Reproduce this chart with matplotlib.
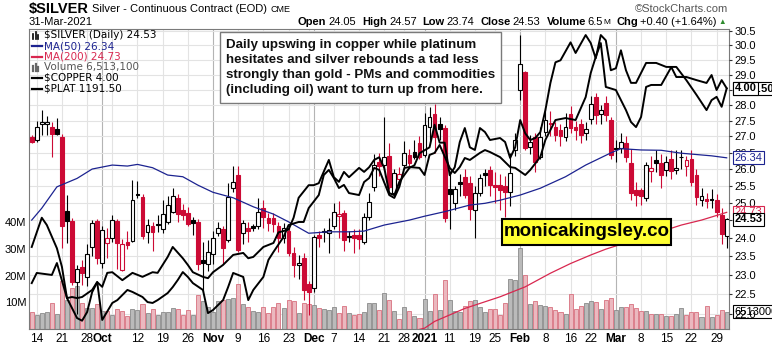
import numpy as np
import pandas as pd
import matplotlib
matplotlib.use('Agg')
import matplotlib.pyplot as plt
import matplotlib.transforms as mtransforms
from matplotlib.lines import Line2D
from matplotlib.patches import Rectangle
from matplotlib.ticker import FixedLocator, NullLocator

plt.rcParams['font.family'] = ['Liberation Sans', 'DejaVu Sans']

# trading days on the chart (exchange holidays removed)
holidays = ['2020-11-26', '2020-12-25', '2021-01-01', '2021-01-18', '2021-02-15']
dates = pd.bdate_range('2020-09-11', '2021-03-31')
dates = dates[~dates.isin(pd.to_datetime(holidays))]

# $SILVER daily candles
opens = [26.98, 26.89, 27.40, 27.38, 27.30, 27.23, 26.98, 24.76, 24.48, 22.82,
         23.22, 22.94, 23.77, 24.48, 23.33, 23.86, 24.01, 24.48, 23.14, 23.90,
         23.92, 25.27, 25.18, 24.18, 24.33, 24.39, 24.26, 24.46, 24.75, 25.15,
         24.80, 24.72, 24.51, 24.46, 23.41, 23.31, 23.58, 24.14, 24.26, 23.95,
         25.43, 25.83, 24.14, 24.30, 24.33, 24.33, 24.86, 24.56, 24.58, 24.35,
         24.01, 24.20, 23.59, 23.27, 23.45, 22.76, 22.65, 24.09, 24.20, 24.15,
         24.33, 24.62, 24.70, 24.07, 24.09, 24.08, 23.90, 24.60, 25.47, 26.22,
         26.12, 26.39, 25.28, 25.70, 26.12, 26.42, 26.52, 26.81, 26.42, 27.30,
         27.70, 27.38, 27.27, 25.42, 24.99, 25.62, 25.77, 25.57, 24.80, 25.28,
         25.87, 25.97, 25.52, 25.52, 25.50, 25.33, 26.58, 28.50, 29.10, 26.68,
         26.98, 26.37, 27.15, 27.42, 27.30, 27.20, 26.99, 27.70, 27.30, 27.40,
         27.10, 27.55, 28.25, 27.70, 28.05, 27.52, 26.65, 26.63, 26.80, 26.17,
         25.38, 25.37, 25.13, 25.93, 26.27, 26.17, 25.97, 26.29, 25.97, 26.37,
         26.10, 26.29, 25.82, 25.08, 25.12, 25.12, 25.08, 24.65, 24.05]
highs = [27.03, 27.48, 27.84, 27.66, 27.45, 27.58, 27.08, 25.24, 24.58, 23.27,
         23.40, 23.84, 24.50, 24.55, 24.35, 24.30, 24.65, 24.55, 23.98, 24.20,
         25.67, 25.64, 25.25, 24.55, 24.45, 24.65, 25.08, 25.20, 25.44, 25.25,
         24.98, 24.88, 24.60, 24.55, 23.90, 23.95, 24.20, 24.45, 24.35, 25.58,
         26.10, 26.10, 24.50, 24.45, 24.40, 25.15, 25.10, 24.70, 24.70, 24.45,
         24.42, 24.30, 23.75, 23.55, 23.60, 22.85, 24.10, 24.20, 24.30, 24.58,
         25.00, 25.05, 24.80, 24.20, 24.25, 24.25, 24.70, 25.30, 26.45, 26.50,
         27.62, 26.80, 26.00, 26.05, 26.85, 26.60, 26.90, 27.00, 27.74, 27.94,
         28.04, 27.60, 27.35, 25.95, 25.50, 25.85, 26.00, 25.80, 25.50, 25.85,
         26.00, 26.10, 25.90, 25.85, 25.80, 26.50, 27.10, 30.36, 29.13, 27.05,
         27.10, 27.30, 27.90, 27.80, 27.45, 27.40, 27.75, 27.95, 27.50, 27.55,
         27.45, 28.30, 28.40, 28.00, 28.30, 27.60, 26.90, 27.10, 27.00, 26.60,
         25.60, 25.45, 26.20, 26.40, 26.57, 26.45, 26.40, 26.57, 26.57, 26.57,
         26.40, 26.57, 26.00, 25.45, 25.30, 25.40, 25.25, 24.85, 24.57]
lows = [26.80, 26.83, 27.04, 27.05, 26.37, 27.03, 23.72, 23.86, 22.74, 21.98,
        22.74, 22.70, 23.50, 23.30, 23.20, 23.47, 23.90, 23.15, 23.10, 23.70,
        23.90, 25.13, 23.99, 23.88, 23.65, 24.18, 24.14, 24.40, 24.72, 24.47,
        24.50, 24.33, 24.10, 23.14, 22.56, 23.10, 23.30, 24.05, 23.30, 23.90,
        25.33, 23.63, 23.85, 23.90, 24.20, 24.25, 24.30, 24.20, 24.18, 23.63,
        23.88, 23.50, 22.95, 22.90, 22.35, 21.95, 22.55, 23.75, 23.90, 23.60,
        24.25, 24.00, 23.66, 23.90, 23.60, 23.70, 23.85, 24.50, 25.35, 25.80,
        25.98, 25.40, 25.25, 25.55, 26.00, 26.10, 26.30, 26.30, 26.35, 26.90,
        26.50, 26.90, 24.45, 24.26, 24.80, 25.20, 25.15, 24.50, 24.00, 25.20,
        25.50, 25.20, 25.00, 24.80, 24.60, 24.90, 26.40, 28.15, 26.57, 26.45,
        25.92, 26.30, 27.00, 27.00, 26.85, 26.70, 26.85, 27.10, 26.90, 26.80,
        26.90, 27.40, 27.40, 27.40, 27.50, 26.30, 26.20, 26.50, 26.20, 25.10,
        24.90, 24.95, 25.05, 25.60, 25.90, 25.45, 25.80, 25.70, 25.85, 26.00,
        25.80, 25.50, 24.95, 24.90, 24.85, 24.85, 24.60, 23.84, 23.74]
closes = [26.82, 27.30, 27.44, 27.46, 27.06, 27.08, 24.35, 24.48, 22.82, 23.16,
          23.05, 23.56, 24.42, 23.45, 24.22, 24.00, 24.52, 23.86, 23.84, 23.82,
          25.08, 25.24, 24.07, 24.37, 24.18, 24.37, 24.67, 24.94, 25.20, 24.67,
          24.65, 24.39, 24.42, 23.31, 23.33, 23.63, 24.00, 24.30, 23.72, 25.18,
          25.62, 23.67, 24.42, 24.20, 24.30, 24.75, 24.60, 24.42, 24.39, 24.00,
          24.28, 23.59, 23.27, 23.32, 22.60, 22.56, 24.04, 24.02, 24.17, 24.22,
          24.75, 24.69, 23.95, 24.04, 24.01, 23.98, 24.60, 25.02, 26.12, 26.08,
          26.37, 25.47, 25.87, 25.85, 26.48, 26.17, 26.37, 26.35, 27.36, 27.60,
          26.99, 27.23, 24.56, 25.25, 25.40, 25.55, 25.23, 24.83, 25.28, 25.72,
          25.82, 25.52, 25.47, 25.38, 25.32, 25.87, 26.89, 29.35, 26.63, 26.83,
          26.22, 26.98, 27.52, 27.38, 27.05, 27.00, 27.30, 27.25, 27.20, 27.05,
          27.23, 28.03, 27.68, 27.83, 27.68, 26.42, 26.60, 26.83, 26.35, 25.30,
          25.23, 25.20, 26.12, 26.02, 26.17, 25.82, 26.22, 25.95, 26.02, 26.35,
          26.28, 25.62, 25.18, 25.20, 25.06, 25.10, 24.75, 24.13, 24.53]
# volume, millions
volume = [6.4, 5.3, 5.9, 6.4, 9.7, 5.7, 17.9, 10.9, 15.3, 16.2,
          9.7, 7.9, 7.9, 9.4, 6.8, 6.8, 5.3, 7.4, 6.7, 4.8,
          7.4, 7.2, 9.4, 5.9, 7.4, 5.4, 6.4, 6.2, 7.7, 7.4,
          5.3, 7.2, 5.2, 12.8, 10.6, 8.4, 6.2, 10.6, 10.9, 11.4,
          11.6, 16.9, 9.3, 8.2, 6.8, 6.2, 8.1, 5.9, 8.2, 9.7,
          7.7, 10.8, 10.4, 5.9, 9.7, 9.3, 8.9, 7.7, 7.4, 7.2,
          8.2, 6.0, 8.7, 5.9, 5.3, 5.6, 6.5, 9.7, 9.7, 7.2,
          13.4, 10.9, 6.8, 3.8, 8.2, 6.8, 5.0, 4.1, 11.2, 6.8,
          13.2, 7.0, 18.5, 10.8, 6.8, 6.2, 8.7, 10.4, 10.8, 8.3,
          6.2, 7.4, 7.4, 5.2, 9.7, 18.7, 18.5, 30.2, 20.4, 9.4,
          10.6, 8.9, 8.7, 8.4, 7.2, 6.5, 5.7, 13.2, 7.4, 8.7,
          9.7, 10.6, 10.2, 7.4, 10.9, 11.7, 7.2, 8.3, 8.4, 9.4,
          7.7, 6.8, 6.8, 5.7, 5.7, 5.7, 5.0, 5.0, 5.7, 7.7,
          5.2, 6.5, 6.5, 4.4, 8.7, 4.4, 5.2, 7.2, 6.513]

# moving averages (read at sample days)
ma50_day = [0, 2, 5, 9, 12, 16, 19, 21, 24, 27, 30, 33, 36, 40, 44, 48, 51, 55, 59, 63,
            66, 70, 75, 78, 82, 87, 90, 93, 97, 101, 106, 110, 115, 117, 121, 125, 129, 135, 138]
ma50 = [24.51, 24.85, 25.47, 25.72, 26.00, 26.12, 26.09, 26.14, 26.04, 25.82, 25.77, 25.52,
        25.31, 25.15, 24.89, 24.68, 24.46, 24.14, 24.18, 24.18, 24.20, 24.37, 24.51, 24.62,
        24.75, 24.94, 24.99, 25.08, 25.23, 25.43, 25.77, 26.12, 26.49, 26.62, 26.58, 26.57,
        26.48, 26.40, 26.34]
ma200_day = [77, 78, 80, 86, 93, 98, 103, 107, 111, 114, 129, 133, 138]
ma200 = [21.60, 21.63, 21.80, 22.13, 22.43, 22.69, 23.05, 23.31, 23.54, 23.70, 24.37, 24.51, 24.73]

# overlays
copper_day = [0, 1, 4, 5, 7, 8, 9, 10, 12, 13, 14, 16, 17, 19, 20, 22, 23, 24, 25, 27,
              28, 29, 30, 31, 32, 34, 35, 36, 38, 39, 40, 42, 43, 44, 46, 47, 48, 50, 51, 53,
              54, 55, 57, 58, 59, 60, 61, 62, 63, 65, 66, 67, 68, 69, 71, 72, 73, 74, 75, 77,
              78, 79, 80, 81, 83, 84, 85, 86, 87, 89, 90, 91, 93, 95, 96, 98, 99, 101, 102, 104,
              106, 108, 110, 111, 112, 113, 114, 116, 118, 119, 120, 121, 122, 123, 125, 127, 128, 130, 132, 134,
              135, 136, 137, 138]
copper = [3.117, 3.163, 3.154, 3.208, 3.049, 3.054, 3.049, 3.054, 3.086, 3.122, 2.950, 3.027, 3.040, 3.086,
          3.077, 3.054, 3.031, 3.027, 3.040, 3.072, 3.099, 3.131, 3.167, 3.145, 3.117, 3.086, 2.981, 2.995,
          3.040, 3.099, 3.163, 3.145, 3.040, 3.086, 3.145, 3.222, 3.258, 3.326, 3.380, 3.394, 3.394, 3.457,
          3.516, 3.607, 3.630, 3.593, 3.548, 3.562, 3.525, 3.516, 3.575, 3.593, 3.639, 3.630, 3.516, 3.503,
          3.553, 3.639, 3.643, 3.639, 3.607, 3.698, 3.707, 3.743, 3.639, 3.616, 3.643, 3.684, 3.675, 3.707,
          3.720, 3.711, 3.688, 3.643, 3.639, 3.607, 3.630, 3.689, 3.766, 3.856, 3.865, 3.856, 3.960, 4.069,
          4.142, 4.205, 4.006, 3.992, 3.901, 3.847, 3.824, 3.870, 4.006, 4.015, 4.015, 4.096, 4.051, 4.051,
          4.037, 4.024, 4.060, 3.992, 4.037, 4.00]
plat_day = [0, 2, 3, 5, 6, 7, 9, 10, 11, 12, 13, 14, 15, 16, 18, 20, 22, 24, 25, 27,
            28, 30, 31, 32, 34, 35, 36, 38, 40, 42, 43, 44, 46, 48, 49, 51, 52, 53, 55, 56,
            57, 59, 60, 61, 62, 63, 65, 66, 67, 68, 69, 70, 71, 72, 73, 75, 76, 77, 79, 80,
            81, 82, 83, 84, 85, 86, 87, 88, 89, 90, 91, 93, 94, 95, 96, 97, 98, 99, 100, 101,
            102, 103, 104, 105, 107, 108, 110, 111, 112, 113, 114, 115, 116, 117, 118, 119, 120, 122, 124, 126,
            128, 130, 132, 134, 135, 136, 137, 138]
plat = [953, 997, 986, 951, 923, 876, 846, 842, 855, 885, 900, 893, 914, 915, 903, 914, 908, 915, 914, 938,
        953, 936, 926, 915, 908, 906, 915, 926, 941, 944, 936, 938, 953, 959, 975, 979, 997, 1027, 1046, 1046,
        1049, 1084, 1058, 1051, 1066, 1058, 1072, 1066, 1073, 1084, 1088, 1072, 1034, 1031, 1051, 1072, 1076, 1094, 1103, 1137,
        1110, 1110, 1061, 1073, 1111, 1132, 1103, 1099, 1132, 1126, 1114, 1117, 1111, 1087, 1103, 1144, 1124, 1114, 1117, 1126,
        1159, 1200, 1231, 1234, 1261, 1245, 1272, 1260, 1237, 1272, 1264, 1219, 1222, 1249, 1219, 1200, 1200, 1230, 1230, 1224,
        1224, 1204, 1182, 1159, 1174, 1179, 1164, 1191.5]

price_ticks = [22.0, 22.5, 23.0, 23.5, 24.0, 24.5, 25.0, 25.5, 26.0, 26.5, 27.0, 27.5, 28.0, 28.5, 29.0, 29.5, 30.0, 30.5]
vol_ticks = [10, 20, 30, 40]
tick_dates = ['2020-09-14', '2020-09-21', '2020-09-28', '2020-10-01', '2020-10-12', '2020-10-19', '2020-10-26',
              '2020-11-02', '2020-11-09', '2020-11-16', '2020-11-23', '2020-12-01', '2020-12-07', '2020-12-14',
              '2020-12-21', '2020-12-28', '2021-01-04', '2021-01-11', '2021-01-19', '2021-01-25', '2021-02-01',
              '2021-02-08', '2021-02-16', '2021-02-22', '2021-03-01', '2021-03-08', '2021-03-15', '2021-03-22',
              '2021-03-29']
tick_labels = ['14', '21', '28', 'Oct', '12', '19', '26', 'Nov', '9', '16', '23', 'Dec', '7', '14', '21', '28',
               '2021', '11', '19', '25', 'Feb', '8', '16', '22', 'Mar', '8', '15', '22', '29']
volume_text = '6,513,100'
volume_short = '6.5'
change_text = '+0.40 (+1.64%)'
note_lines = ['Daily upswing in copper while platinum',
              'hesitates and silver rebounds a tad less',
              'strongly than gold - PMs and commodities',
              '(including oil) want to turn up from here.']

W, H = 772, 345
def fx(px):
    return px / W
def fy(py):
    return 1 - py / H

RED = '#cc0a35'
NAVY = '#1c2390'
MARED = '#d8274f'
x = np.arange(len(dates))
o, h, l, c = map(np.array, (opens, highs, lows, closes))
prev = np.r_[o[0], c[:-1]]
down = c < prev
hollow = c > o
col = np.where(down, RED, 'black')

fig = plt.figure(figsize=(W / 100, H / 100), dpi=100)
rect = [fx(29), fy(329), fx(729) - fx(29), fy(29) - fy(329)]
ax_v = fig.add_axes(rect)
ax_p = ax_v.twinx()
ax_pt = ax_v.twinx()
ax_cu = ax_v.twinx()

ax_v.set_xlim(-0.54, len(dates) - 0.54)
ax_v.set_ylim(0, 112.5)
ax_p.set_yscale('log')
ax_p.set_ylim(21.61, 30.57)
ax_cu.set_ylim(2.909, 4.2686)
ax_pt.set_ylim(829.5, 1281.1)

# grid
week = dates.to_series().dt.isocalendar().week.values
week_start = [i for i in range(1, len(dates)) if week[i] != week[i - 1]]
month_start = [i for i in range(1, len(dates)) if dates[i].month != dates[i - 1].month]
for i in week_start:
    if i not in month_start:
        ax_v.axvline(i, color='#e3e3e3', lw=0.8, zorder=0)
for i in month_start:
    ax_v.axvline(i, color='#b4b4b4', lw=0.8, zorder=0)
blend = mtransforms.blended_transform_factory(ax_v.transAxes, ax_p.transData)
for p in price_ticks:
    ax_v.plot([0, 1], [p, p], transform=blend, color='#e3e3e3', lw=0.8, zorder=0)

# volume
ax_v.bar(x, volume, width=0.8, color=np.where(down, '#ebb8bf', '#bababa'),
         edgecolor=np.where(down, '#d8707f', '#8a8a8a'), lw=0.6, zorder=2)

# candles
ax_p.vlines(x, l, h, colors=col, lw=0.8, zorder=3)
body_lo = np.minimum(o, c)
body_h = np.maximum(np.abs(c - o), 0.01)
ax_p.bar(x, body_h, bottom=body_lo, width=0.75, color=np.where(hollow, 'white', col),
         edgecolor=col, lw=0.8, zorder=4)
ax_p.plot(ma50_day, ma50, color=NAVY, lw=0.9, zorder=5)
ax_p.plot(ma200_day, ma200, color=MARED, lw=0.9, zorder=5)

ax_pt.plot(plat_day, plat, color='black', lw=1.4, zorder=6)
ax_cu.plot(copper_day, copper, color='black', lw=1.4, zorder=6)

# axes cosmetics
ax_p.yaxis.set_major_locator(FixedLocator(price_ticks))
ax_p.yaxis.set_minor_locator(NullLocator())
ax_p.set_yticklabels(['%.1f' % p for p in price_ticks])
ax_p.tick_params(axis='y', labelsize=8, length=2, pad=2, colors='#333333', labelcolor='black')
ax_v.yaxis.set_major_locator(FixedLocator(vol_ticks))
ax_v.set_yticklabels(['%dM' % v for v in vol_ticks])
ax_v.tick_params(axis='y', labelsize=8, length=0, pad=2)
tick_pos = [dates.get_loc(pd.Timestamp(d)) for d in tick_dates]
ax_v.set_xticks(tick_pos)
ax_v.set_xticklabels(tick_labels)
ax_v.tick_params(axis='x', labelsize=8.5, length=0, pad=3)
for t in ax_v.get_xticklabels():
    if not t.get_text().isdigit() or t.get_text() == '2021':
        t.set_fontweight('bold')
for a in (ax_pt, ax_cu):
    a.set_yticks([])
    for s in a.spines.values():
        s.set_visible(False)
for s in ax_p.spines.values():
    s.set_visible(False)
for s in ax_v.spines.values():
    s.set_color('#7a7a7a')
    s.set_linewidth(0.8)

# value tags on the right
def tag(ax, val, text, ec, tc='black', weight='normal'):
    ax.annotate(text, xy=(1, val), xycoords=('axes fraction', 'data'), xytext=(4, 0),
                textcoords='offset points', ha='left', va='center', fontsize=8, fontweight=weight,
                color=tc, bbox=dict(boxstyle='square,pad=0.12', fc='white', ec=ec, lw=0.8),
                annotation_clip=False)

tag(ax_p, ma50[-1], '%.2f' % ma50[-1], NAVY, NAVY)
tag(ax_p, ma200[-1], '%.2f' % ma200[-1], MARED, MARED)
tag(ax_p, closes[-1], '%.2f' % closes[-1], 'black', 'black', 'bold')
tag(ax_v, volume[-1], '%d' % round(volume[-1] * 1e6), 'black')
tag(ax_pt, plat[-1], '%.2f' % plat[-1], 'black', 'black', 'bold')
tag(ax_cu, copper[-1], '%.2f' % copper[-1], 'black', 'black', 'bold')

# header
renderer = fig.canvas.get_renderer()
def chain(parts, x0, y, ha='left'):
    xx = x0
    seq = parts if ha == 'left' else parts[::-1]
    for txt, weight, size, color, gap in seq:
        if ha == 'right':
            xx -= gap
        t = fig.text(fx(xx), fy(y), txt, ha=ha, va='center', fontsize=size,
                     fontweight=weight, color=color)
        w = t.get_window_extent(renderer).width
        xx = xx + w + gap if ha == 'left' else xx - w

chain([('$SILVER', 'bold', 10.5, 'black', 3),
       ('Silver - Continuous Contract (EOD)', 'normal', 8, 'black', 4),
       ('CME', 'normal', 6.5, 'black', 0)], 29, 9)
fig.text(fx(29), fy(22), '31-Mar-2021', ha='left', va='center', fontsize=8)
fig.text(fx(728), fy(9), '\u00a9StockCharts.com', ha='right', va='center', fontsize=8, color='#555555')
vals = ['%.2f' % opens[-1], '%.2f' % highs[-1], '%.2f' % lows[-1], '%.2f' % closes[-1]]
chain([('Open', 'bold', 8, 'black', 2), (vals[0], 'normal', 8, 'black', 6),
       ('High', 'bold', 8, 'black', 2), (vals[1], 'normal', 8, 'black', 6),
       ('Low', 'bold', 8, 'black', 2), (vals[2], 'normal', 8, 'black', 6),
       ('Close', 'bold', 8, 'black', 2), (vals[3], 'normal', 8, 'black', 6),
       ('Volume', 'bold', 8, 'black', 2), (volume_short, 'normal', 8, 'black', 0),
       ('M', 'normal', 6, 'black', 6),
       ('Chg', 'bold', 8, 'black', 2),
       (change_text, 'normal', 8, 'black', 2),
       ('\u25b2', 'normal', 5.5, '#2e8b2e', 0)], 726, 22, ha='right')

# legend
leg = [('$SILVER (Daily) %.2f' % closes[-1], 'black', None),
       ('MA(50) %.2f' % ma50[-1], NAVY, NAVY),
       ('MA(200) %.2f' % ma200[-1], MARED, MARED),
       ('Volume ' + volume_text, '#555555', None),
       ('$COPPER %.2f' % copper[-1], 'black', 'black'),
       ('$PLAT %.2f' % plat[-1], 'black', 'black')]
for k, (txt, tc, lc) in enumerate(leg):
    yy = 35.5 + k * 10.6
    fig.text(fx(44), fy(yy), txt, ha='left', va='center', fontsize=7.5, color=tc, family='DejaVu Sans')
    if lc is not None:
        fig.add_artist(Line2D([fx(32), fx(42)], [fy(yy), fy(yy)], color=lc, lw=1.6,
                              transform=fig.transFigure))
for k, hh in enumerate([5, 7, 4]):
    fig.add_artist(Line2D([fx(33 + 2.5 * k)] * 2, [fy(35.5 + 3), fy(35.5 + 3 - hh)], color='black',
                          lw=1.2, transform=fig.transFigure))
    fig.add_artist(Line2D([fx(33 + 2.5 * k)] * 2, [fy(67.3 + 3.5), fy(67.3 + 3.5 - hh)], color='#666666',
                          lw=1.6, transform=fig.transFigure))

# commentary box
fig.add_artist(Rectangle((fx(220), fy(103)), fx(501) - fx(220), (103 - 32) / H, transform=fig.transFigure,
                         fc='white', ec='#7a7a7a', lw=1.0, zorder=10))
for k, line in enumerate(note_lines):
    fig.text(fx(226), fy(45 + k * 15), line, ha='left', va='center', fontsize=9.6,
             fontweight='bold', color='#111111', zorder=11)

# site badge
fig.add_artist(Rectangle((fx(502), fy(245)), fx(671) - fx(502), (245 - 219) / H, transform=fig.transFigure,
                         fc='#ffff33', ec='black', lw=1.5, zorder=10))
fig.text(fx(586.5), fy(232), 'monicakingsley.co', ha='center', va='center', fontsize=13.5,
         fontweight='bold', color='black', zorder=11)

fig.savefig('out.png', dpi=100, facecolor='white')
